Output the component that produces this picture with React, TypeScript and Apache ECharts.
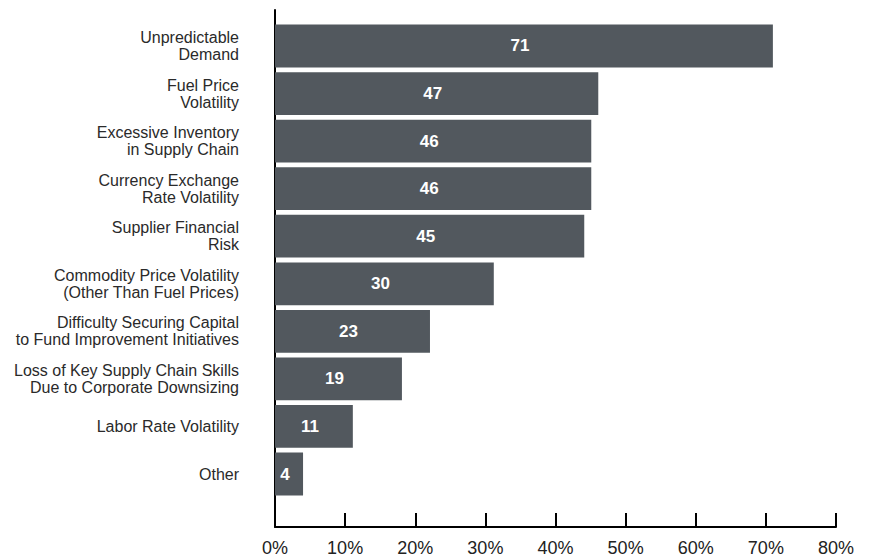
import React, { useEffect, useRef } from "react";
import * as echarts from "echarts";

const categories = [
  "Unpredictable\nDemand",
  "Fuel Price\nVolatility",
  "Excessive Inventory\nin Supply Chain",
  "Currency Exchange\nRate Volatility",
  "Supplier Financial\nRisk",
  "Commodity Price Volatility\n(Other Than Fuel Prices)",
  "Difficulty Securing Capital\nto Fund Improvement Initiatives",
  "Loss of Key Supply Chain Skills\nDue to Corporate Downsizing",
  "Labor Rate Volatility",
  "Other",
];
// bar lengths as drawn in the picture (percent)
const barLengths = [71, 46.1, 45.1, 45.1, 44.1, 31.2, 22.1, 18.1, 11.1, 4];
// numbers printed inside the bars
const valueLabels = [71, 47, 46, 46, 45, 30, 23, 19, 11, 4];
const xTicks = [0, 10, 20, 30, 40, 50, 60, 70, 80];

export default function App() {
  const ref = useRef<HTMLDivElement>(null);
  useEffect(() => {
    if (!ref.current) return;
    const chart = echarts.init(ref.current, null, { renderer: "svg" });
    const font = "'Liberation Sans', Arial, Helvetica, sans-serif";
    chart.setOption({
      animation: false,
      backgroundColor: "#ffffff",
      grid: [
        { left: 275, top: 22.2, width: 561, height: 475.6, containLabel: false },
        { left: 275, top: 10, width: 561, height: 517, containLabel: false },
      ],
      xAxis: [
        {
          gridIndex: 0,
          type: "value",
          min: xTicks[0],
          max: xTicks[xTicks.length - 1],
          interval: 10,
          show: false,
        },
        {
          gridIndex: 1,
          type: "value",
          min: xTicks[0],
          max: xTicks[xTicks.length - 1],
          interval: 10,
          axisLine: { show: true, lineStyle: { color: "#000", width: 2 } },
          axisTick: { show: true, inside: true, length: 14, lineStyle: { color: "#000", width: 2 } },
          splitLine: { show: false },
          axisLabel: {
            formatter: "{value}%",
            color: "#222",
            fontSize: 18,
            fontFamily: font,
            margin: 12,
          },
        },
      ],
      yAxis: [
        {
          gridIndex: 0,
          type: "category",
          inverse: true,
          data: categories,
          axisLine: { show: false },
          axisTick: { show: false },
          splitLine: { show: false },
          axisLabel: {
            color: "#2a2a2a",
            fontSize: 16,
            lineHeight: 17,
            fontFamily: font,
            margin: 36,
            align: "right",
          },
        },
        {
          gridIndex: 1,
          type: "value",
          min: 0,
          max: 1,
          axisLine: { show: true, lineStyle: { color: "#000", width: 2 } },
          axisTick: { show: false },
          axisLabel: { show: false },
          splitLine: { show: false },
        },
      ],
      series: [
        {
          type: "bar",
          xAxisIndex: 0,
          yAxisIndex: 0,
          barCategoryGap: "10%",
          data: barLengths,
          itemStyle: { color: "#52585e" },
          label: {
            show: true,
            position: "inside",
            offset: [-4, 0],
            color: "#ffffff",
            fontSize: 17,
            fontWeight: "bold",
            fontFamily: font,
            formatter: (p: any) => String(valueLabels[p.dataIndex]),
          },
        },
      ],
    });
    return () => chart.dispose();
  }, []);
  return (
    <div
      ref={ref}
      style={{ position: "fixed", left: 0, top: 0, width: 870, height: 558 }}
    />
  );
}
